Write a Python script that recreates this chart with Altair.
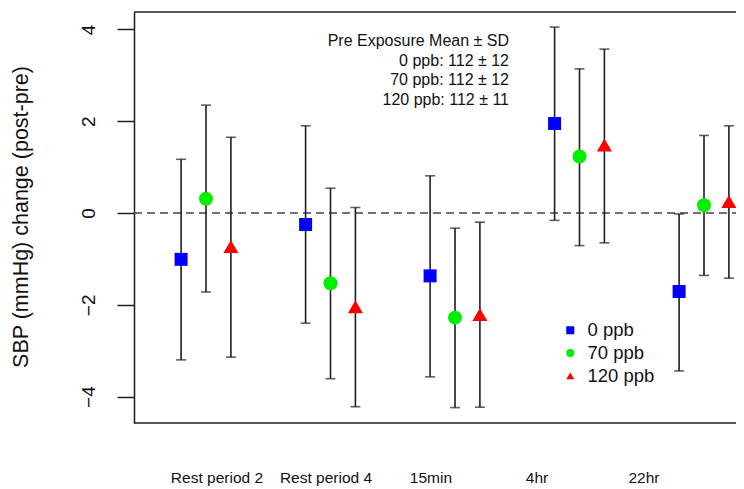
import altair as alt
import pandas as pd

timepoints = ["Rest period 2", "Rest period 4", "15min", "4hr", "22hr"]
doses = ["0 ppb", "70 ppb", "120 ppb"]

mean_0 = [-1.01, -0.25, -1.37, 1.95, -1.71]
mean_70 = [0.31, -1.53, -2.28, 1.23, 0.17]
mean_120 = [-0.73, -2.04, -2.21, 1.48, 0.25]

lo_0 = [-3.20, -2.40, -3.57, -0.16, -3.44]
lo_70 = [-1.72, -3.61, -4.24, -0.71, -1.36]
lo_120 = [-3.14, -4.22, -4.23, -0.65, -1.42]

hi_0 = [1.17, 1.90, 0.81, 4.05, -0.02]
hi_70 = [2.35, 0.54, -0.33, 3.14, 1.69]
hi_120 = [1.65, 0.12, -0.20, 3.57, 1.90]

# where the time-point labels sit under the plot (in group units)
label_pos = [1.088, 1.964, 2.807, 3.659, 4.518]

annotation = [
    "Pre Exposure Mean \u00b1 SD",
    "0 ppb: 112 \u00b1 12",
    "70 ppb: 112 \u00b1 12",
    "120 ppb: 112 \u00b1 11",
]

y_ticks = [-4, -2, 0, 2, 4]

# ---- build table ----
series = {
    "0 ppb": (mean_0, lo_0, hi_0),
    "70 ppb": (mean_70, lo_70, hi_70),
    "120 ppb": (mean_120, lo_120, hi_120),
}
dose_offset = {"0 ppb": -0.2, "70 ppb": 0.0, "120 ppb": 0.2}
rows = []
for d in doses:
    m, lo, hi = series[d]
    for i, t in enumerate(timepoints):
        rows.append({"time": t, "dose": d, "x": i + 1 + dose_offset[d],
                     "mean": m[i], "lo": lo[i], "hi": hi[i]})
df = pd.DataFrame(rows)
lab_df = pd.DataFrame({"label": timepoints, "pos": label_pos})

W, H = 602, 411
FONT = "Liberation Sans"
INK = "#1e1e1e"

xscale = alt.Scale(domain=[0.4217, 0.4217 + W / 124.5], nice=False, zero=False)
yscale = alt.Scale(domain=[-4.575, 4.379], nice=False, zero=False)
yaxis = alt.Axis(
    values=y_ticks, tickSize=17, tickWidth=1.5, tickColor=INK,
    domainColor=INK, domainWidth=1.5, grid=False,
    labelAngle=270, labelAlign="center", labelBaseline="middle",
    labelPadding=29, labelFontSize=19, labelFont=FONT, labelColor="#111",
    title="SBP (mmHg) change (post-pre)", titleFont=FONT, titleFontSize=21.5,
    titleFontWeight="normal", titleColor="#111", titleAngle=270,
    titleAlign="center", titleBaseline="middle", titleX=-113, titleY=204.5,
)

base = alt.Chart(df)

bars = base.mark_rule(color=INK, strokeWidth=1.6).encode(
    x=alt.X("x:Q", scale=xscale, axis=None),
    y=alt.Y("lo:Q", scale=yscale, axis=yaxis),
    y2="hi:Q",
)
cap_lo = base.mark_tick(color=INK, thickness=1.6, size=10, orient="horizontal").encode(
    x=alt.X("x:Q", scale=xscale, axis=None),
    y=alt.Y("lo:Q", scale=yscale, axis=yaxis),
)
cap_hi = base.mark_tick(color=INK, thickness=1.6, size=10, orient="horizontal").encode(
    x=alt.X("x:Q", scale=xscale, axis=None),
    y=alt.Y("hi:Q", scale=yscale, axis=yaxis),
)

legend = alt.Legend(
    orient="none", legendX=427, legendY=309, title=None, padding=0,
    labelFont=FONT, labelFontSize=18.5, labelColor="#111", labelOffset=8,
    symbolSize=64, symbolStrokeWidth=0, rowPadding=3.8,
)
color_enc = alt.Color("dose:N", scale=alt.Scale(domain=doses, range=["#0000ff", "#00ee00", "#ff0000"]), legend=legend)
shape_enc = alt.Shape("dose:N", scale=alt.Scale(domain=doses, range=["square", "circle", "triangle-up"]), legend=legend)

marker_size = {"0 ppb": 169, "70 ppb": 196, "120 ppb": 225}
point_layers = []
for d in doses:
    point_layers.append(
        base.transform_filter(alt.datum.dose == d)
        .mark_point(filled=True, opacity=1, strokeWidth=0, size=marker_size[d])
        .encode(
            x=alt.X("x:Q", scale=xscale, axis=None),
            y=alt.Y("mean:Q", scale=yscale, axis=yaxis),
            color=color_enc,
            shape=shape_enc,
        )
    )

zero_line = alt.Chart(pd.DataFrame({"v": [0]})).mark_rule(
    color="#444", strokeWidth=1.6, strokeDash=[8, 5]
).encode(
    y=alt.Y("v:Q", scale=yscale, axis=yaxis),
    x=alt.value(0), x2=alt.value(W),
)

top_border = alt.Chart(pd.DataFrame({"v": [0]})).mark_rule(color=INK, strokeWidth=1.5).encode(
    x=alt.value(0), x2=alt.value(W), y=alt.value(0)
)
bottom_border = alt.Chart(pd.DataFrame({"v": [0]})).mark_rule(color=INK, strokeWidth=1.5).encode(
    x=alt.value(0), x2=alt.value(W), y=alt.value(H)
)

labels = alt.Chart(lab_df).mark_text(
    font=FONT, fontSize=15.5, color="#111", baseline="alphabetic", align="center"
).encode(
    x=alt.X("pos:Q", scale=xscale, axis=None),
    y=alt.value(471),
    text="label:N",
)

note = alt.Chart(pd.DataFrame({"v": [0]})).mark_text(
    text=annotation, font=FONT, fontSize=16, color="#111", align="right",
    baseline="alphabetic", lineHeight=19.8,
).encode(x=alt.value(375), y=alt.value(33.8))

chart = alt.layer(
    zero_line, top_border, bottom_border, bars, cap_lo, cap_hi, *point_layers, labels, note
).properties(
    width=W, height=H,
    padding={"left": 126, "top": 4, "right": 0, "bottom": 66},
    autosize=alt.AutoSizeParams(type="none"),
    background="white",
).configure_view(stroke=None)

chart.save("out.html", embed_options={"renderer": "svg", "actions": False})
